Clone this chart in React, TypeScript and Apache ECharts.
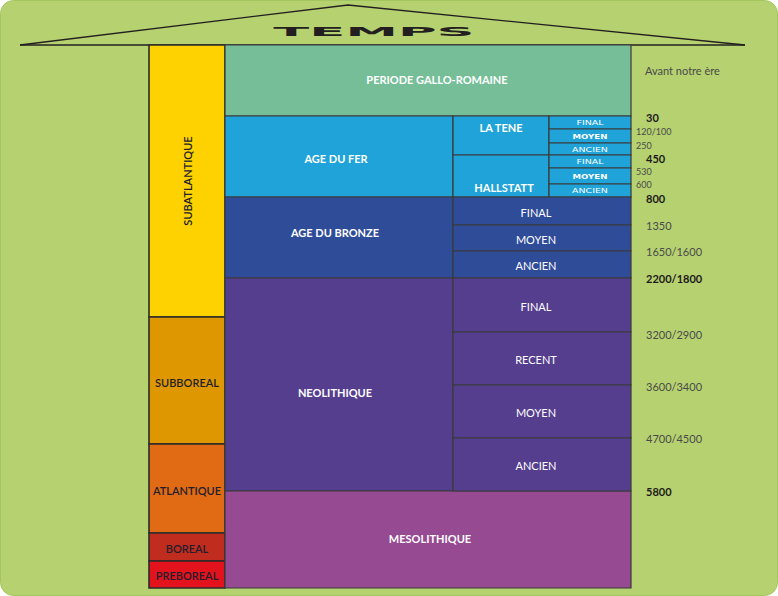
import React, { useEffect, useRef } from "react";
import * as echarts from "echarts";

// Schematic time axis (units from the top of the column, reading downward)
const columnEdges = [0, 76, 304, 400, 482];

const climatePhases = ["SUBATLANTIQUE", "SUBBOREAL", "ATLANTIQUE", "BOREAL", "PREBOREAL"];
const climateBounds = [0, 272, 399, 488, 516, 543];

const periods = ["PERIODE GALLO-ROMAINE", "AGE DU FER", "AGE DU BRONZE", "NEOLITHIQUE", "MESOLITHIQUE"];
const periodBounds = [0, 71, 152, 233, 446, 543];

const ironCultures = ["LA TENE", "HALLSTATT"];
const ironCultureBounds = [71, 110, 152];

const ironPhases = ["FINAL", "MOYEN", "ANCIEN", "FINAL", "MOYEN", "ANCIEN"];
const ironPhaseBounds = [71, 84, 98, 110, 123, 139, 152];

const bronzePhases = ["FINAL", "MOYEN", "ANCIEN"];
const bronzePhaseBounds = [152, 180, 206, 233];

const neoPhases = ["FINAL", "RECENT", "MOYEN", "ANCIEN"];
const neoPhaseBounds = [233, 287, 340, 393, 446];

const dateLabels = ["30", "120/100", "250", "450", "530", "600", "800", "1350", "1650/1600", "2200/1800", "3200/2900", "3600/3400", "4700/4500", "5800"];
const datePositions = [71, 85, 99, 112, 125, 138, 152, 179, 205, 232, 288, 340, 392, 445];
const dateRank = ["major", "minor", "minor", "major", "minor", "minor", "major", "mid", "mid", "major", "mid", "mid", "mid", "major"];

type Block = { kind: string; label: string; c0: number; c1: number; start: number; end: number; idx: number };

const blocks: Block[] = [];
climatePhases.forEach((l, i) => blocks.push({ kind: "climate", label: l, c0: 0, c1: 1, start: climateBounds[i], end: climateBounds[i + 1], idx: i }));
periods.forEach((l, i) => {
  const wide = i === 0 || i === 4;
  blocks.push({ kind: "period", label: l, c0: 1, c1: wide ? 4 : 2, start: periodBounds[i], end: periodBounds[i + 1], idx: i });
});
ironCultures.forEach((l, i) => blocks.push({ kind: "ironCulture", label: l, c0: 2, c1: 3, start: ironCultureBounds[i], end: ironCultureBounds[i + 1], idx: i }));
ironPhases.forEach((l, i) => blocks.push({ kind: "ironPhase", label: l, c0: 3, c1: 4, start: ironPhaseBounds[i], end: ironPhaseBounds[i + 1], idx: i }));
bronzePhases.forEach((l, i) => blocks.push({ kind: "bronzePhase", label: l, c0: 2, c1: 4, start: bronzePhaseBounds[i], end: bronzePhaseBounds[i + 1], idx: i }));
neoPhases.forEach((l, i) => blocks.push({ kind: "neoPhase", label: l, c0: 2, c1: 4, start: neoPhaseBounds[i], end: neoPhaseBounds[i + 1], idx: i }));

// Styles
const climateColors = ["#fed200", "#df9700", "#e06b14", "#c02d1f", "#e3131e"];
const periodColors = ["#75be98", "#1fa3d8", "#2f4c98", "#553e8e", "#964a92"];
const climateDy = [0, 2, 2, 1, 1];
const periodOffsets: [number, number][] = [[9, -1], [-3, 2], [-4, -5], [-4, 8], [2, -1]];
const cultureOffsets: [number, number][] = [[0, -8], [3, 11]];
const ironPhaseStyle: Record<string, { size: number; weight: string; sx: number }> = {
  FINAL: { size: 6.5, weight: "normal", sx: 1.45 },
  MOYEN: { size: 7.5, weight: "bold", sx: 1.15 },
  ANCIEN: { size: 6.5, weight: "normal", sx: 1.45 },
};

function fillFor(b: Block) {
  if (b.kind === "climate") return climateColors[b.idx];
  if (b.kind === "period") return periodColors[b.idx];
  if (b.kind === "ironCulture" || b.kind === "ironPhase") return periodColors[1];
  if (b.kind === "bronzePhase") return periodColors[2];
  return periodColors[3];
}

const FONT = "Lato, 'Open Sans', sans-serif";

function renderBlock(params: any, api: any) {
  const b = blocks[params.dataIndex];
  const p0 = api.coord([api.value(0), api.value(2)]);
  const p1 = api.coord([api.value(1), api.value(3)]);
  const w = p1[0] - p0[0];
  const h = p1[1] - p0[1];
  const cx = p0[0] + w / 2;
  const cy = p0[1] + h / 2;
  const children: any[] = [
    {
      type: "rect",
      shape: { x: p0[0], y: p0[1], width: w, height: h },
      style: {
        fill: fillFor(b),
        stroke: b.kind === "climate" ? "#2b2b2b" : "#3a3a3a",
        lineWidth: b.kind === "climate" ? 1.6 : 1.2,
      },
    },
  ];
  if (b.kind === "climate") {
    const vertical = b.idx === 0;
    children.push({
      type: "text",
      x: cx,
      y: cy + climateDy[b.idx],
      rotation: vertical ? Math.PI / 2 : 0,
      style: {
        text: b.label,
        x: 0,
        y: 0,
        fill: "#221e2c",
        fontSize: 11,
        fontWeight: 600,
        fontFamily: FONT,
        align: "center",
        verticalAlign: "middle",
      },
    });
  } else if (b.kind === "period" || b.kind === "ironCulture") {
    const off = b.kind === "period" ? periodOffsets[b.idx] : cultureOffsets[b.idx];
    children.push({
      type: "text",
      x: cx + off[0],
      y: cy + off[1],
      style: {
        text: b.label,
        x: 0,
        y: 0,
        fill: "#ffffff",
        fontSize: 11,
        fontWeight: "bold",
        fontFamily: FONT,
        align: "center",
        verticalAlign: "middle",
      },
    });
  } else if (b.kind === "ironPhase") {
    const s = ironPhaseStyle[b.label];
    children.push({
      type: "text",
      x: cx,
      y: cy + 0.5,
      scaleX: s.sx,
      style: {
        text: b.label,
        x: 0,
        y: 0,
        fill: "#ffffff",
        fontSize: s.size,
        fontWeight: s.weight,
        fontFamily: "'DejaVu Sans', sans-serif",
        align: "center",
        verticalAlign: "middle",
      },
    });
  } else {
    children.push({
      type: "text",
      x: cx - 6,
      y: cy + 1,
      style: {
        text: b.label,
        x: 0,
        y: 0,
        fill: "#ffffff",
        fontSize: 11,
        fontWeight: "normal",
        fontFamily: FONT,
        align: "center",
        verticalAlign: "middle",
      },
    });
  }
  return { type: "group", children };
}

function renderDate(params: any, api: any) {
  const i = params.dataIndex;
  const p = api.coord([api.value(0), api.value(1)]);
  const rank = dateRank[i];
  const major = rank === "major";
  const minor = rank === "minor";
  return {
    type: "text",
    x: p[0] + (minor ? 5 : 15),
    y: p[1] + 1,
    style: {
      text: dateLabels[i],
      x: 0,
      y: 0,
      fill: major ? "#1e1a1b" : "#4a4a4a",
      fontSize: minor ? 9 : 11,
      fontWeight: major ? "bold" : "normal",
      fontFamily: FONT,
      align: "left",
      verticalAlign: "middle",
    },
  };
}

export default function App() {
  const ref = useRef<HTMLDivElement>(null);
  useEffect(() => {
    const chart = echarts.init(ref.current!, null, { renderer: "svg" });
    const option: any = {
      animation: false,
      backgroundColor: "#ffffff",
      grid: { left: 149, right: 147, top: 45, bottom: 8 },
      xAxis: { type: "value", min: 0, max: columnEdges[columnEdges.length - 1], show: false },
      yAxis: { type: "value", min: 0, max: 543, inverse: true, show: false },
      graphic: [
        {
          type: "rect",
          z: -10,
          shape: { x: 0.5, y: 0.5, width: 777, height: 595, r: 13 },
          style: { fill: "#b5d170", stroke: "#a3c75e", lineWidth: 1 },
        },
        {
          type: "polyline",
          shape: { points: [[20, 45], [348, 5], [745, 45]] },
          style: { stroke: "#231f20", lineWidth: 1.3, fill: "none" },
        },
        {
          type: "line",
          shape: { x1: 20, y1: 45, x2: 745, y2: 45 },
          style: { stroke: "#231f20", lineWidth: 1.5 },
        },
        {
          type: "text",
          x: 374,
          y: 32,
          scaleX: 4.4,
          style: {
            text: "TEMPS",
            fill: "#231f20",
            fontSize: 12,
            fontWeight: 900,
            fontFamily: "'DejaVu Sans', sans-serif",
            align: "center",
            verticalAlign: "middle",
          },
        },
        {
          type: "text",
          x: 645,
          y: 70,
          style: {
            text: "Avant notre ère",
            fill: "#4a4a4a",
            fontSize: 11,
            fontFamily: FONT,
            align: "left",
            verticalAlign: "middle",
          },
        },
      ],
      series: [
        {
          type: "custom",
          clip: false,
          renderItem: renderBlock,
          encode: { x: [0, 1], y: [2, 3] },
          data: blocks.map((b) => ({ name: b.label, value: [columnEdges[b.c0], columnEdges[b.c1], b.start, b.end] })),
        },
        {
          type: "custom",
          clip: false,
          renderItem: renderDate,
          encode: { x: 0, y: 1 },
          data: dateLabels.map((l, i) => ({ name: l, value: [columnEdges[columnEdges.length - 1], datePositions[i]] })),
        },
      ],
    };
    chart.setOption(option);
    return () => chart.dispose();
  }, []);
  return <div ref={ref} style={{ position: "fixed", left: 0, top: 0, width: 778, height: 596 }} />;
}
